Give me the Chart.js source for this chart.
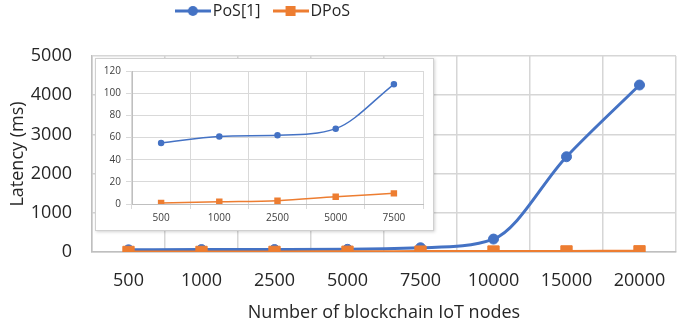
<!DOCTYPE html>
<html>
<head>
<meta charset="utf-8">
<script src="https://cdn.jsdelivr.net/npm/chart.js@4.4.1/dist/chart.umd.min.js"></script>
<style>
  body { margin: 0; background: #fff; }
  #wrap { position: relative; width: 685px; height: 324px; }
  #mainChart { display: block; }
  #inset { position: absolute; left: 95px; top: 58px; width: 337px; height: 171px; background: #fff;
           border: 1px solid #d0d0d0; box-shadow: 1px 1px 3px rgba(0,0,0,0.18); }
  #insetChart { display: block; }
</style>
</head>
<body>
<div id="wrap">
  <canvas id="mainChart" width="685" height="324"></canvas>
  <div id="inset"><canvas id="insetChart" width="337" height="171"></canvas></div>
</div>
<script>
// values (latency in ms)
const nodes = ['500', '1000', '2500', '5000', '7500', '10000', '15000', '20000'];
const posLatency = [55, 61, 62, 68, 108, 330, 2430, 4260];
const dposLatency = [1, 2, 3, 6.5, 9.6, 12, 15, 18];
const insetCount = 5; // zoomed chart shows the first five node counts

const blue = '#4472C4';
const orange = '#ED7D31';
const fontFamily = '"Open Sans", "Noto Sans", sans-serif';

// legend icons: line with marker, like the spreadsheet legend
function legendIcon(color, square) {
    const c = document.createElement('canvas');
    c.width = 36; c.height = 14;
    const g = c.getContext('2d');
    g.strokeStyle = color; g.lineWidth = 3;
    g.beginPath(); g.moveTo(0, 7); g.lineTo(36, 7); g.stroke();
    g.fillStyle = color;
    if (square) g.fillRect(13, 2, 10, 10);
    else { g.beginPath(); g.arc(18, 7, 5, 0, Math.PI * 2); g.fill(); }
    return c;
}
const icons = [legendIcon(blue, false), legendIcon(orange, true)];

// move the legend up/left to where it sits in the figure
const legendShift = {
    id: 'legendShift',
    afterLayout(chart) {
        const l = chart.legend;
        l.left -= 76; l.right -= 76;
        l.top -= 27; l.bottom -= 27;
    }
};

const mainCtx = document.getElementById('mainChart').getContext('2d');
const mainChart = new Chart(mainCtx, {
    type: 'line',
    data: {
        labels: nodes,
        datasets: [{
            label: 'PoS[1]',
            data: posLatency,
            borderColor: blue,
            backgroundColor: blue,
            borderWidth: 3,
            pointStyle: 'circle',
            pointRadius: 5,
            pointBorderWidth: 1,
            cubicInterpolationMode: 'monotone',
            order: 1
        }, {
            label: 'DPoS',
            data: dposLatency,
            borderColor: orange,
            backgroundColor: orange,
            borderWidth: 3,
            pointStyle: 'rect',
            pointRadius: 8,
            pointBorderWidth: 1,
            cubicInterpolationMode: 'monotone',
            order: 0
        }]
    },
    options: {
        responsive: false,
        animation: false,
        devicePixelRatio: 1,
        layout: { padding: { left: 0, right: 2, top: 12, bottom: 0 } },
        plugins: {
            tooltip: { enabled: false },
            legend: {
                position: 'top',
                labels: {
                    usePointStyle: true,
                    pointStyleWidth: 24,
                    padding: 18,
                    color: '#262626',
                    font: { family: fontFamily, size: 16 },
                    sort: (a, b) => a.datasetIndex - b.datasetIndex,
                    generateLabels: (chart) => {
                        const items = Chart.defaults.plugins.legend.labels.generateLabels(chart);
                        items.forEach(it => { it.pointStyle = icons[it.datasetIndex]; });
                        return items;
                    }
                }
            }
        },
        scales: {
            x: {
                offset: true,
                grid: { offset: true, color: '#d6d6d6', lineWidth: 1.5, drawTicks: false },
                border: { color: '#bfbfbf', width: 1.5 },
                ticks: { padding: 18, color: '#262626', font: { family: fontFamily, size: 18 } },
                title: {
                    display: true,
                    text: 'Number of blockchain IoT nodes',
                    color: '#262626',
                    font: { family: fontFamily, size: 18 },
                    padding: { top: 0, bottom: 0 }
                },
                afterFit: (scale) => { scale.height = 72; }
            },
            y: {
                min: 0,
                max: 5000,
                grid: { color: '#d6d6d6', lineWidth: 1.5, drawTicks: false },
                border: { color: '#bfbfbf', width: 1.5 },
                ticks: {
                    stepSize: 1000,
                    padding: 20,
                    color: '#262626',
                    font: { family: fontFamily, size: 18 },
                    callback: (v) => String(v)
                },
                title: {
                    display: true,
                    text: 'Latency (ms)',
                    color: '#262626',
                    font: { family: fontFamily, size: 18 },
                    padding: { top: 7, bottom: 0 }
                },
                afterFit: (scale) => { scale.width = 92; }
            }
        }
    },
    plugins: [legendShift]
});

// inset: zoom on the first node counts
const insetCtx = document.getElementById('insetChart').getContext('2d');
const insetChart = new Chart(insetCtx, {
    type: 'line',
    data: {
        labels: nodes.slice(0, insetCount),
        datasets: [{
            label: 'PoS[1]',
            data: posLatency.slice(0, insetCount),
            borderColor: blue,
            backgroundColor: blue,
            borderWidth: 1.5,
            pointStyle: 'circle',
            pointRadius: 2.5,
            cubicInterpolationMode: 'monotone'
        }, {
            label: 'DPoS',
            data: dposLatency.slice(0, insetCount),
            borderColor: orange,
            backgroundColor: orange,
            borderWidth: 1.5,
            pointStyle: 'rect',
            pointRadius: 3.5,
            cubicInterpolationMode: 'monotone'
        }]
    },
    options: {
        responsive: false,
        animation: false,
        devicePixelRatio: 1,
        layout: { padding: { left: 0, right: 10, top: 12, bottom: 0 } },
        plugins: { legend: { display: false }, tooltip: { enabled: false } },
        scales: {
            x: {
                offset: true,
                grid: { offset: true, color: '#d9d9d9', lineWidth: 1, tickLength: 5 },
                border: { color: '#bfbfbf' },
                ticks: { padding: 3, color: '#404040', font: { family: fontFamily, size: 10 } },
                afterFit: (scale) => { scale.height = 26; }
            },
            y: {
                min: 0,
                max: 120,
                grid: { color: '#d9d9d9', lineWidth: 1, tickLength: 6 },
                border: { color: '#bfbfbf' },
                ticks: { stepSize: 20, padding: 5, color: '#404040', font: { family: fontFamily, size: 10 } },
                afterFit: (scale) => { scale.width = 36; }
            }
        }
    }
});
</script>
</body>
</html>
